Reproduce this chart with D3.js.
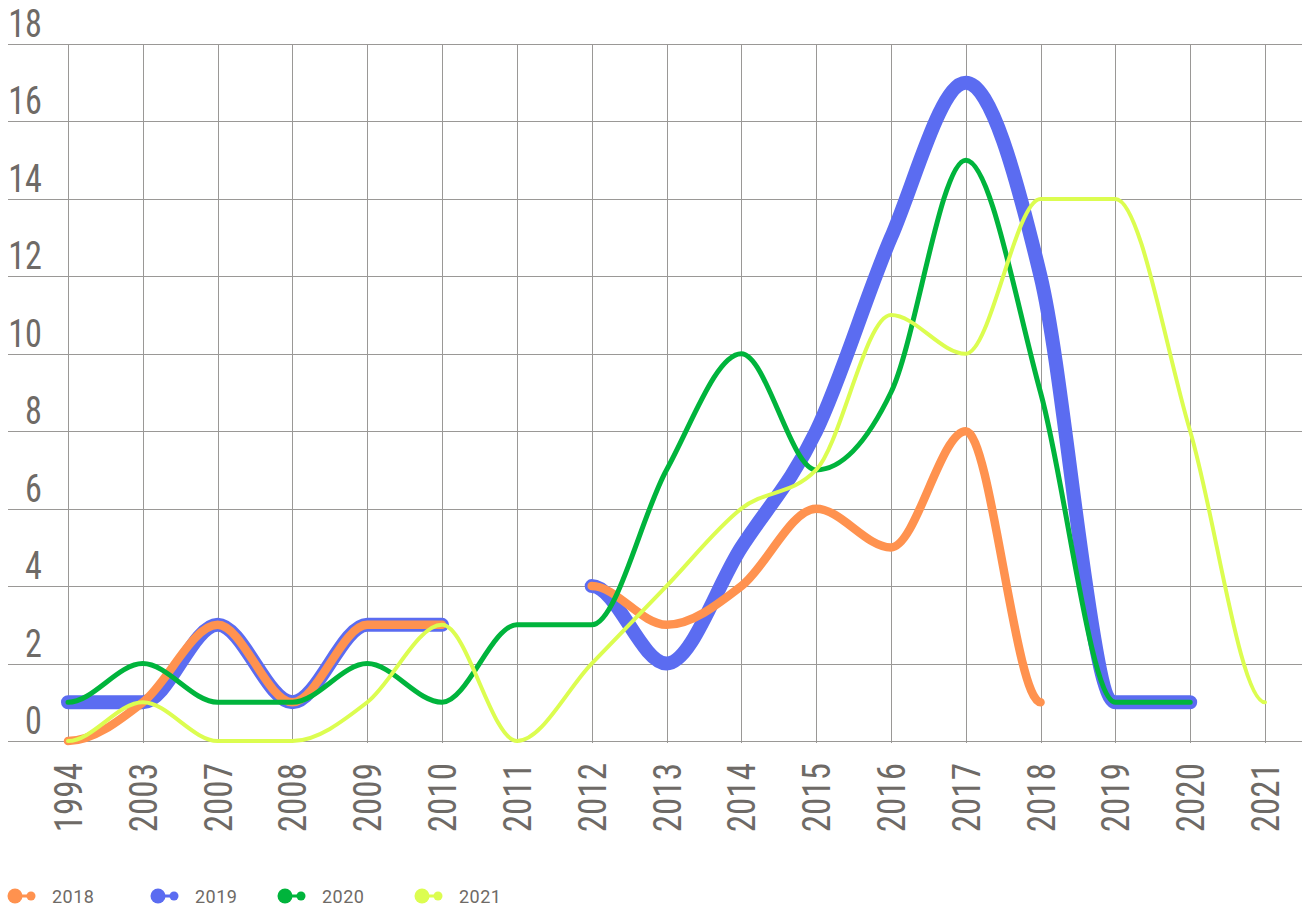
<!DOCTYPE html>
<html>
<head>
<meta charset="utf-8">
<script src="https://cdn.jsdelivr.net/npm/d3@7"></script>
<style>
  body { margin: 0; background: #fff; }
  svg { display: block; }
  .axis-label { font-family: "Liberation Sans Narrow", "Roboto Condensed", "Liberation Sans", sans-serif; fill: #6e6a66; }
  .legend-label { font-family: Roboto, "Noto Sans", sans-serif; fill: #6e6a66; }
</style>
</head>
<body>
<svg id="chart" width="1306" height="908"></svg>
<script>
var categories = ["1994", "2003", "2007", "2008", "2009", "2010", "2011", "2012", "2013",
                  "2014", "2015", "2016", "2017", "2018", "2019", "2020", "2021"];

var s2018 = [0, 1, 3, 1, 3, 3, null, 4, 3, 4, 6, 5, 8, 1, null, null, null];
var s2019 = [1, 1, 3, 1, 3, 3, null, 4, 2, 5, 8, 13, 17, 12, 1, 1, null];
var s2020 = [1, 2, 1, 1, 2, 1, 3, 3, 7, 10, 7, 9, 15, 9, 1, 1, null];
var s2021 = [0, 1, 0, 0, 1, 3, 0, 2, 4, 6, 7, 11, 10, 14, 14, 8, 1];

var yTicks = [0, 2, 4, 6, 8, 10, 12, 14, 16, 18];

var seriesNames = ["2018", "2019", "2020", "2021"];
var colors = {"2018": "#ff924f", "2019": "#5b6cf1", "2020": "#00b43c", "2021": "#dcfd50"};
var widths = {"2018": 8.5, "2019": 14, "2020": 5, "2021": 4};

var svg = d3.select("#chart");

var x = d3.scalePoint()
    .domain(categories)
    .range([68, 1265]);

var y = d3.scaleLinear()
    .domain([0, 18])
    .range([741, 44]);

// monotone spline, but with flat tangents at the ends of each run
function FlatEndMonotone(context) { this._context = context; }
FlatEndMonotone.prototype = {
    areaStart: function() {},
    areaEnd: function() {},
    lineStart: function() { this._xs = []; this._ys = []; },
    point: function(px, py) { this._xs.push(+px); this._ys.push(+py); },
    lineEnd: function() {
        var xs = this._xs, ys = this._ys, n = xs.length, ctx = this._context;
        if (!n) return;
        ctx.moveTo(xs[0], ys[0]);
        if (n === 1) { ctx.lineTo(xs[0], ys[0]); return; }
        var m = [];
        for (var i = 0; i < n; i++) {
            if (i === 0 || i === n - 1) { m.push(0); continue; }
            var h0 = xs[i] - xs[i - 1], h1 = xs[i + 1] - xs[i];
            var s0 = (ys[i] - ys[i - 1]) / h0, s1 = (ys[i + 1] - ys[i]) / h1;
            var p = (s0 * h1 + s1 * h0) / (h0 + h1);
            m.push((Math.sign(s0) + Math.sign(s1)) *
                Math.min(Math.abs(s0), Math.abs(s1), 0.5 * Math.abs(p)) || 0);
        }
        for (var j = 0; j < n - 1; j++) {
            var dx = (xs[j + 1] - xs[j]) / 3;
            ctx.bezierCurveTo(xs[j] + dx, ys[j] + dx * m[j],
                              xs[j + 1] - dx, ys[j + 1] - dx * m[j + 1],
                              xs[j + 1], ys[j + 1]);
        }
    }
};
var curveFlatEnd = function(context) { return new FlatEndMonotone(context); };

// grid
var grid = svg.append("g");

grid.selectAll(".hgrid")
    .data(yTicks)
    .enter().append("line")
    .attr("x1", 8)
    .attr("x2", 1302)
    .attr("y1", function(d) { return Math.round(y(d)) + 0.5; })
    .attr("y2", function(d) { return Math.round(y(d)) + 0.5; })
    .attr("stroke", "#9a9896")
    .attr("stroke-width", 1);

grid.selectAll(".vgrid")
    .data(categories)
    .enter().append("line")
    .attr("x1", function(d) { return Math.round(x(d)) + 0.5; })
    .attr("x2", function(d) { return Math.round(x(d)) + 0.5; })
    .attr("y1", y(18))
    .attr("y2", y(0) + 2)
    .attr("stroke", "#9a9896")
    .attr("stroke-width", 1);

// y labels
svg.append("g").selectAll("text")
    .data(yTicks)
    .enter().append("text")
    .attr("class", "axis-label")
    .attr("transform", function(d) {
        return "translate(42," + (y(d) - 7) + ") scale(0.9,1)"; })
    .attr("text-anchor", "end")
    .style("font-size", "38px")
    .text(function(d) { return d; });

// x labels
svg.append("g").selectAll("text")
    .data(categories)
    .enter().append("text")
    .attr("class", "axis-label")
    .attr("transform", function(d) {
        return "translate(" + (x(d) + 14) + ",763) rotate(-90) scale(0.9,1)"; })
    .attr("text-anchor", "end")
    .style("font-size", "39px")
    .text(function(d) { return d; });

// lines
var allSeries = [
    {name: "2019", values: s2019},
    {name: "2018", values: s2018},
    {name: "2020", values: s2020},
    {name: "2021", values: s2021}
];

var line = d3.line()
    .defined(function(d) { return d != null; })
    .x(function(d, i) { return x(categories[i]); })
    .y(function(d) { return y(d); })
    .curve(curveFlatEnd);

svg.append("g").selectAll("path")
    .data(allSeries)
    .enter().append("path")
    .attr("d", function(s) { return line(s.values); })
    .attr("fill", "none")
    .attr("stroke", function(s) { return colors[s.name]; })
    .attr("stroke-width", function(s) { return widths[s.name]; })
    .attr("stroke-linecap", "round")
    .attr("stroke-linejoin", "round");

// legend
var legendX = [15, 158, 285, 422];
var legend = svg.append("g").selectAll("g")
    .data(seriesNames)
    .enter().append("g")
    .attr("transform", function(d, i) { return "translate(" + legendX[i] + ",896)"; });

legend.append("line")
    .attr("x1", 0).attr("x2", 16)
    .attr("y1", 0).attr("y2", 0)
    .attr("stroke", function(d) { return colors[d]; })
    .attr("stroke-width", 3);

legend.append("circle")
    .attr("r", 7.5)
    .attr("fill", function(d) { return colors[d]; });

legend.append("circle")
    .attr("cx", 16)
    .attr("r", 4.5)
    .attr("fill", function(d) { return colors[d]; });

legend.append("text")
    .attr("class", "legend-label")
    .attr("x", 37)
    .attr("y", 7)
    .style("font-size", "18px")
    .style("letter-spacing", "0.5px")
    .text(function(d) { return d; });
</script>
</body>
</html>
